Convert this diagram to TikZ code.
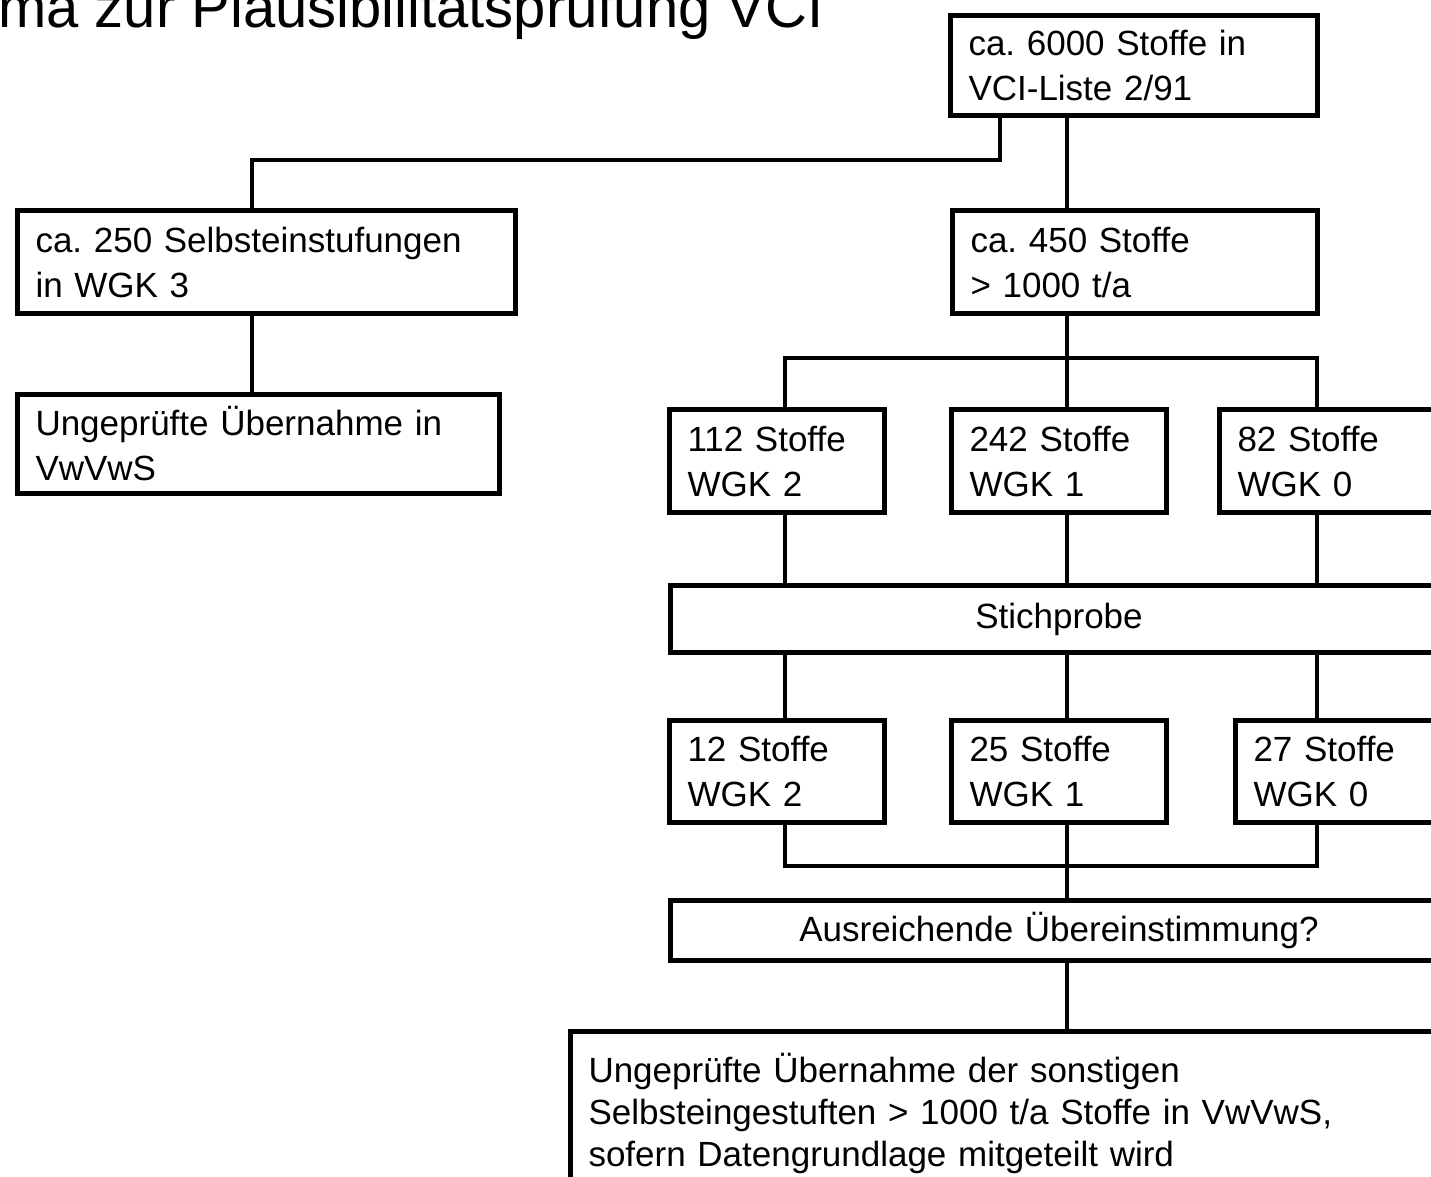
\documentclass[tikz,border=0pt]{standalone}
\usepackage{fontspec}
\setmainfont{Liberation Sans}
\frenchspacing
\tikzset{
  kasten/.style={draw, rectangle, line width=5pt, anchor=north west, align=left,
    inner xsep=18pt, font=\fontsize{35}{45}\selectfont},
  verb/.style={line width=3.5pt},
}
\begin{document}
\begin{tikzpicture}[x=1pt, y=-1pt]
\useasboundingbox (0,0) rectangle (1431,1176);
\clip (0,0) rectangle (1431,1176);
\node[anchor=base west, inner sep=0pt, font=\fontsize{58}{60}\selectfont] (titel) at (-2,27) {ma zur Plausibilitätsprüfung VCI};
% Kaesten
\node[kasten, text width=331pt, minimum height=100pt] (liste) at (948,13) {ca. 6000 Stoffe in\\VCI-Liste 2/91};
\node[kasten, text width=462pt, minimum height=103pt] (wgk3) at (15,208) {ca. 250 Selbsteinstufungen\\in WGK 3};
\node[kasten, text width=329pt, minimum height=103pt] (menge) at (950,208) {ca. 450 Stoffe\\> 1000 t/a};
\node[kasten, text width=446pt, minimum height=99pt] (uebern1) at (15,392) {Ungeprüfte Übernahme in\\VwVwS};
\node[kasten, text width=179pt, minimum height=103pt] (wgkzwei) at (667,407) {112 Stoffe\\WGK 2};
\node[kasten, text width=179pt, minimum height=103pt] (wgkeins) at (949,407) {242 Stoffe\\WGK 1};
\node[kasten, text width=179pt, minimum height=103pt] (wgknull) at (1217,407) {82 Stoffe\\WGK 0};
\node[kasten, align=center, text width=741pt, minimum height=67pt] (probe) at (668,583) {Stichprobe};
\node[kasten, text width=179pt, minimum height=102pt] (probezwei) at (667,718) {12 Stoffe\\WGK 2};
\node[kasten, text width=179pt, minimum height=102pt] (probeeins) at (949,718) {25 Stoffe\\WGK 1};
\node[kasten, text width=179pt, minimum height=102pt] (probenull) at (1233,718) {27 Stoffe\\WGK 0};
\node[kasten, align=center, text width=741pt, minimum height=60pt] (frage) at (668,898) {Ausreichende Übereinstimmung?};
\node[kasten, text width=959pt, minimum height=163pt, font=\fontsize{35}{42}\selectfont] (uebern2) at (568,1029) {Ungeprüfte Übernahme der sonstigen\\Selbsteingestuften > 1000 t/a Stoffe in VwVwS,\\sofern Datengrundlage mitgeteilt wird};
% Linien
\coordinate (knick) at (1000,160);
\coordinate (vb) at (252,0);
\coordinate (v0) at (785,0);
\coordinate (v1) at (1067,0);
\coordinate (v2) at (1317,0);
\coordinate (s1) at (0,358);
\coordinate (s2) at (0,866);
\draw[verb] (liste.south -| knick) -- (knick) -| (wgk3.north -| vb);
\draw[verb] (liste.south -| v1) -- (menge.north -| v1);
\draw[verb] (wgk3.south -| vb) -- (uebern1.north -| vb);
\draw[verb] (menge.south -| v1) -- (wgkeins.north -| v1);
\draw[verb] (wgkzwei.north -| v0) |- (s1 -| v2) -- (wgknull.north -| v2);
\foreach \v/\oben/\unten in {v0/wgkzwei/probezwei, v1/wgkeins/probeeins, v2/wgknull/probenull}{
  \draw[verb] (\oben.south -| \v) -- (probe.north -| \v);
  \draw[verb] (probe.south -| \v) -- (\unten.north -| \v);
}
\draw[verb] (probezwei.south -| v0) |- (s2 -| v2) -- (probenull.south -| v2);
\draw[verb] (probeeins.south -| v1) -- (frage.north -| v1);
\draw[verb] (frage.south -| v1) -- (uebern2.north -| v1);
\end{tikzpicture}
\end{document}
